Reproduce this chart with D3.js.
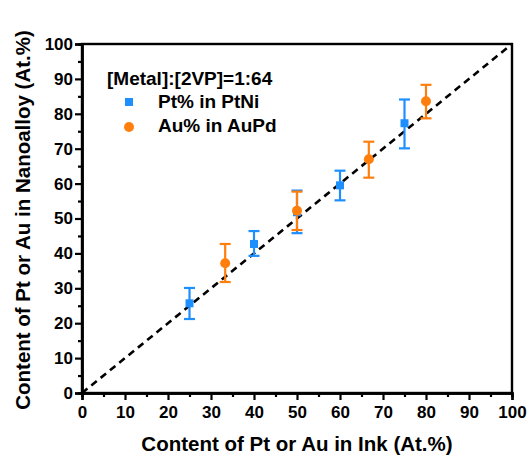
<!DOCTYPE html>
<html><head><meta charset="utf-8">
<script src="https://cdn.jsdelivr.net/npm/d3@7"></script>
<style>body{margin:0;background:#fff}svg{display:block;font-family:"Liberation Sans",Arial,sans-serif;font-weight:bold}</style>
</head><body><svg id="c" width="529" height="455"></svg>
<script>
const ptX = [25, 40, 50, 60, 75];
const ptY = [25.7, 42.7, 51.8, 59.5, 77.3];
const ptLo = [21.2, 39.3, 45.8, 55.2, 70.1];
const ptHi = [30.1, 46.4, 58.0, 63.7, 84.1];
const auX = [33.3, 50, 66.7, 80];
const auY = [37.2, 52.2, 67.0, 83.6];
const auLo = [31.8, 46.7, 61.7, 78.7];
const auHi = [42.7, 57.7, 72.0, 88.3];
const ticks = [0,10,20,30,40,50,60,70,80,90,100];
const minorTicks = [5,15,25,35,45,55,65,75,85,95];
const legendTitle = "[Metal]:[2VP]=1:64";
const seriesNames = ["Pt% in PtNi", "Au% in AuPd"];
const xTitle = "Content of Pt or Au in Ink (At.%)";
const yTitle = "Content of Pt or Au in Nanoalloy (At.%)";

const blue = "#1e8fff", orange = "#ff7f0e";
const svg = d3.select("#c");
const L=82, R=512, T=44, B=393;
const x = d3.scaleLinear().domain([0,100]).range([L,R]);
const y = d3.scaleLinear().domain([0,100]).range([B,T]);

// frame
svg.append("rect").attr("x",L).attr("y",T).attr("width",R-L).attr("height",B-T)
  .attr("fill","none").attr("stroke","#000").attr("stroke-width",2.4);

// axes
const xa = svg.append("g").attr("transform",`translate(0,${B})`)
  .call(d3.axisBottom(x).tickValues(ticks).tickSize(7).tickPadding(6));
const xm = svg.append("g").attr("transform",`translate(0,${B})`)
  .call(d3.axisBottom(x).tickValues(minorTicks).tickSize(4).tickFormat(""));
const ya = svg.append("g").attr("transform",`translate(${L},0)`)
  .call(d3.axisLeft(y).tickValues(ticks).tickSize(7).tickPadding(2));
const ym = svg.append("g").attr("transform",`translate(${L},0)`)
  .call(d3.axisLeft(y).tickValues(minorTicks).tickSize(4).tickFormat(""));
[xa,xm,ya,ym].forEach(g=>{
  g.select(".domain").attr("stroke","#000").attr("stroke-width",2.4);
  g.selectAll(".tick line").attr("stroke","#000").attr("stroke-width",2.2);
  g.selectAll(".tick text").attr("fill","#000").style("font-size","17px").style("font-weight","bold")
   .style("font-family","'Liberation Sans',Arial,sans-serif");
});

// diagonal
svg.append("line").attr("x1",x(0)).attr("y1",y(0)).attr("x2",x(100)).attr("y2",y(100))
  .attr("stroke","#000").attr("stroke-width",2.6).attr("stroke-dasharray","7,5");

function errBars(xs, lo, hi, color){
  const g = svg.append("g").attr("stroke",color).attr("stroke-width",2.2);
  xs.forEach((xv,i)=>{
    g.append("line").attr("x1",x(xv)).attr("x2",x(xv)).attr("y1",y(lo[i])).attr("y2",y(hi[i]));
    [lo[i],hi[i]].forEach(v=>g.append("line").attr("x1",x(xv)-5.5).attr("x2",x(xv)+5.5).attr("y1",y(v)).attr("y2",y(v)));
  });
}
errBars(ptX, ptLo, ptHi, blue);
errBars(auX, auLo, auHi, orange);
svg.append("g").selectAll("rect").data(ptX).join("rect")
  .attr("x",(d)=>x(d)-4).attr("y",(d,i)=>y(ptY[i])-4).attr("width",8).attr("height",8).attr("fill",blue);
svg.append("g").selectAll("circle").data(auX).join("circle")
  .attr("cx",d=>x(d)).attr("cy",(d,i)=>y(auY[i])).attr("r",5).attr("fill",orange);

// legend
svg.append("text").attr("x",107).attr("y",85).style("font-size","19px").text(legendTitle);
svg.append("rect").attr("x",125).attr("y",98).attr("width",8).attr("height",8).attr("fill",blue);
svg.append("text").attr("x",158).attr("y",108).style("font-size","19px").text(seriesNames[0]);
svg.append("circle").attr("cx",129).attr("cy",127).attr("r",5).attr("fill",orange);
svg.append("text").attr("x",158).attr("y",132).style("font-size","19px").text(seriesNames[1]);

// titles
svg.append("text").attr("x",(L+R)/2).attr("y",451).attr("text-anchor","middle").style("font-size","20.5px").text(xTitle);
svg.append("text").attr("transform",`translate(30,${220}) rotate(-90)`).attr("text-anchor","middle").style("font-size","20.5px").text(yTitle);
</script></body></html>
